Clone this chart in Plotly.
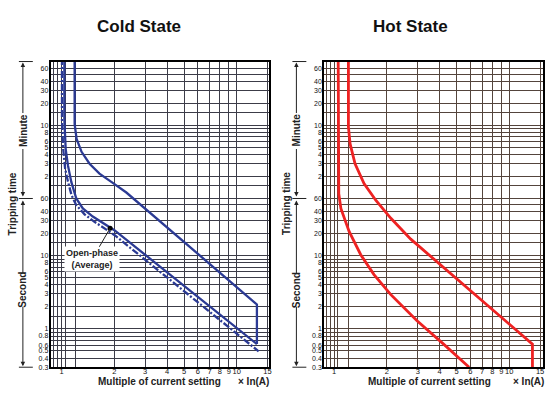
import numpy as np
import plotly.graph_objects as go

# ---------------- data ----------------
x_ticks = [1, 2, 3, 4, 5, 6, 7, 8, 9, 10, 15]
x_tick_text = ["1", "2", "3", "4", "5", "6", "7", "8", "9", "10", "15"]
x_grid_minor = [0.9, 0.95, 1.05, 1.2]

# tripping time in seconds (upper part labelled in minutes)
y_tick_seconds = [3600, 2400, 1800, 1200, 600, 480, 360, 300, 240, 180, 120,
                  60, 40, 30, 20, 10, 8, 6, 5, 4, 3, 2, 1, 0.8, 0.6, 0.5, 0.4, 0.3]
y_tick_text = ["60", "40", "30", "20", "10", "8", "6", "5", "4", "3", "2",
               "60", "40", "30", "20", "10", "8", "6", "5", "4", "3", "2",
               "1", "0.8", "0.6", "0.5", "0.4", "0.3"]
y_grid_minor = [3000, 900, 540, 420, 90, 50, 15, 9, 7, 1.5, 0.9, 0.7]

# Cold state curves (multiple of In, seconds)
cold_upper_x = [1.186, 1.186, 1.217, 1.299, 1.443, 1.644, 1.949, 2.341, 13.04, 13.04]
cold_upper_y = [5000, 627, 393, 262, 180, 131.8, 99.5, 72.9, 2.16, 0.621]
cold_lower_x = [1.036, 1.036, 1.054, 1.086, 1.135, 1.212, 1.321, 1.506, 2.0, 13.04]
cold_lower_y = [5000, 733, 287.5, 170.8, 101.7, 60.4, 44.2, 34.2, 22.3, 0.621]
cold_open_x = [1.004, 1.004, 1.020, 1.047, 1.086, 1.140, 1.212, 1.351, 1.540, 2.0, 13.34]
cold_open_y = [5000, 733, 287.5, 154, 102.7, 66.4, 49.0, 36.7, 29.0, 19.2, 0.495]
open_phase_point_x = [1.891]
open_phase_point_y = [23.7]

# Hot state curves
hot_lower_x = [1.054, 1.054, 1.062, 1.092, 1.217, 1.418, 1.688, 2.100, 2.973, 4.217, 5.90]
hot_lower_y = [5000, 101.7, 70, 44.2, 21.4, 10.3, 5.52, 2.96, 1.29, 0.621, 0.3]
hot_upper_x = [1.206, 1.206, 1.233, 1.316, 1.481, 1.732, 2.108, 2.738, 13.57, 13.57]
hot_upper_y = [5000, 571, 336, 180, 96.5, 56.8, 32.4, 16.8, 0.621, 0.3]

# ---------------- figure ----------------
W, H = 557, 399
BLUE = "#2b3a94"
RED = "#ee2222"
FONT = "Liberation Sans, Arial, sans-serif"

fig = go.Figure()

def line(x, y, color, dash="solid", xa="x", ya="y", width=2.3):
    fig.add_trace(go.Scatter(x=x, y=y, mode="lines", xaxis=xa, yaxis=ya,
                             line=dict(color=color, width=width, dash=dash),
                             hoverinfo="skip", showlegend=False))

line(cold_upper_x, cold_upper_y, BLUE)
line(cold_lower_x, cold_lower_y, BLUE)
line(cold_open_x, cold_open_y, BLUE, dash="7px,2px,2px,2px")
fig.add_trace(go.Scatter(x=open_phase_point_x, y=open_phase_point_y, mode="markers",
                         marker=dict(color="black", size=5), showlegend=False,
                         hoverinfo="skip"))
line(hot_lower_x, hot_lower_y, RED, xa="x2", ya="y2", width=2.8)
line(hot_upper_x, hot_upper_y, RED, xa="x2", ya="y2", width=2.8)

def px2paper_x(p):
    return p / W

def py2paper_y(p):
    return 1 - p / H

y_dom = [py2paper_y(370), py2paper_y(62)]
y_range = [np.log10(0.3), 3.651]

def xaxis(dom, rng, gridcol, anchor):
    return dict(type="log", domain=dom, range=rng, anchor=anchor,
                tickvals=x_ticks, ticktext=x_tick_text, tickangle=0,
                ticklabelstandoff=-4,
                showgrid=True, gridcolor=gridcol, gridwidth=1,
                minor=dict(tickvals=x_grid_minor, showgrid=True, gridcolor=gridcol, gridwidth=1, ticks=""),
                showline=True, linecolor="black", linewidth=2, mirror=True,
                ticks="", zeroline=False, tickfont=dict(size=7.5, color="#111", family=FONT),
                fixedrange=True)

def yaxis(anchor, gridcol):
    return dict(type="log", domain=y_dom, range=y_range, anchor=anchor,
                tickvals=y_tick_seconds, ticktext=y_tick_text,
                ticklabelstandoff=-1,
                showgrid=True, gridcolor=gridcol, gridwidth=1,
                minor=dict(tickvals=y_grid_minor, showgrid=True, gridcolor=gridcol, gridwidth=1, ticks=""),
                showline=True, linecolor="black", linewidth=2, mirror=True,
                ticks="", zeroline=False, tickfont=dict(size=7, color="#111", family=FONT),
                fixedrange=True)

fig.update_layout(
    width=W, height=H, margin=dict(l=0, r=0, t=0, b=0),
    paper_bgcolor="white", plot_bgcolor="white",
    xaxis=xaxis([px2paper_x(51), px2paper_x(270)], [-0.0625, 1.1818], "#3c3c48", "y"),
    yaxis=yaxis("x", "#3c3c48"),
    xaxis2=xaxis([px2paper_x(326), px2paper_x(546)], [-0.0568, 1.1932], "#54443c", "y2"),
    yaxis2=yaxis("x2", "#54443c"),
    font=dict(family=FONT, color="#222"),
)

ann = []
shapes = []

def label(cx, cy, text, size, angle=0, color="#222"):
    ann.append(dict(x=px2paper_x(cx), y=py2paper_y(cy), xref="paper", yref="paper",
                    xanchor="center", yanchor="middle",
                    text=text, showarrow=False, textangle=angle,
                    font=dict(size=size, color=color, family=FONT)))

# titles
label(140, 27, "<b>Cold State</b>", 17, color="#111")
label(413, 27, "<b>Hot State</b>", 17, color="#111")

# x-axis titles
for cx, t in [(160, "Multiple of current setting"), (255, "× In(A)"),
              (432, "Multiple of current setting"), (531, "× In(A)")]:
    label(cx, 384, "<b>%s</b>" % t, 10)

# y-axis side labels and arrows
for off in [0, 275]:
    ax_x = 23 + off
    label(13 + off, 205, "<b>Tripping time</b>", 10, angle=-90)
    label(ax_x, 131, "<b>Minute</b>", 10, angle=-90)
    label(ax_x, 292, "<b>Second</b>", 10, angle=-90)
    for tip, tail in [(63, 115), (198, 149), (202, 276), (369, 308)]:
        ann.append(dict(x=px2paper_x(ax_x), y=py2paper_y(tip), xref="paper", yref="paper",
                        ax=0, ay=tail - tip, text="", showarrow=True,
                        arrowhead=2, arrowsize=0.9, arrowwidth=1, arrowcolor="#222"))
    for yy in [62, 200, 370]:
        shapes.append(dict(type="line", xref="paper", yref="paper",
                           x0=px2paper_x(ax_x - 4), x1=px2paper_x(ax_x + 10),
                           y0=py2paper_y(yy), y1=py2paper_y(yy),
                           line=dict(color="#222", width=1)))

# open-phase annotation
ann.append(dict(x=np.log10(open_phase_point_x[0]), y=np.log10(open_phase_point_y[0]),
                xref="x", yref="y", text="<b>Open-phase<br>(Average)</b>",
                showarrow=True, arrowhead=0, arrowwidth=1, arrowcolor="#222",
                ax=-18, ay=31, bgcolor="white", borderpad=1,
                font=dict(size=9, color="#222", family=FONT)))

fig.update_layout(annotations=ann, shapes=shapes)
fig.write_html("out.html", config={"displayModeBar": False},
               post_script="document.body.style.margin='0';document.body.style.padding='0';")
